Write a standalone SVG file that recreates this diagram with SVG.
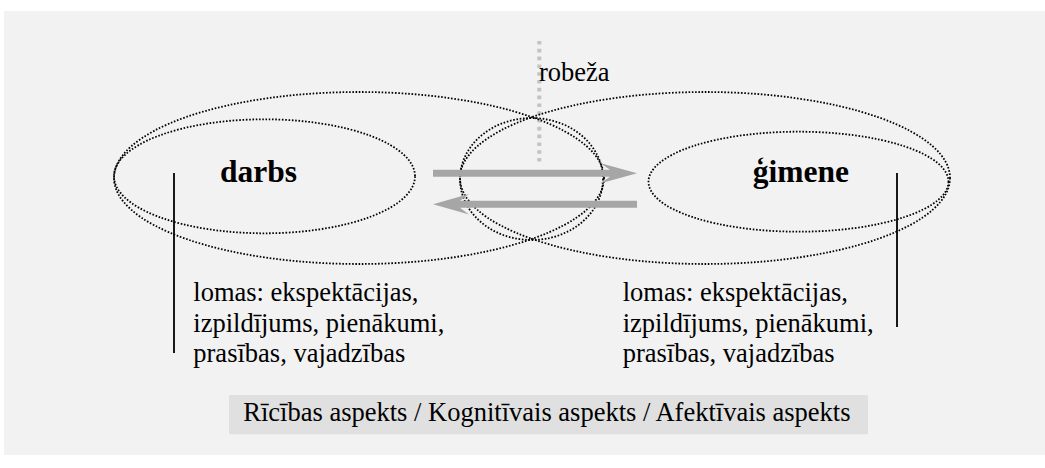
<svg xmlns="http://www.w3.org/2000/svg" width="1045" height="468" viewBox="0 0 1045 468">
  <style>
    .dot { fill: none; stroke: #000; stroke-width: 1.8; stroke-dasharray: 1.6 1.7; }
    .serif { font-family: "Liberation Serif", "Times New Roman", serif; fill: #000; }
    .label { font-size: 31.5px; font-weight: bold; }
    .body { font-size: 26.5px; }
    .arrow { fill: #a6a6a6; }
    .bar { stroke: #000; stroke-width: 1.8; }
  </style>
  <rect x="0" y="0" width="1045" height="468" fill="#ffffff"/>
  <rect x="4" y="11" width="1041" height="444" fill="#f2f2f2"/>

  <g id="boundary">
    <line x1="539.3" y1="41" x2="539.3" y2="164" stroke="#c3c3c3" stroke-width="4" stroke-dasharray="3.6 4.2"/>
    <text class="serif body" x="539" y="80.7">robeža</text>
  </g>

  <g id="work-sphere">
    <ellipse class="dot" cx="359" cy="178" rx="245" ry="86"/>
  </g>
  <g id="family-sphere">
    <ellipse class="dot" cx="705" cy="178" rx="245" ry="86"/>
  </g>
  <g id="overlap">
    <ellipse class="dot" cx="531.5" cy="179" rx="71.5" ry="61"/>
  </g>

  <g id="darbs">
    <ellipse class="dot" cx="264.5" cy="176.3" rx="150.5" ry="57"/>
    <text class="serif label" x="220" y="182.3">darbs</text>
  </g>
  <g id="gimene">
    <ellipse class="dot" cx="798.5" cy="181.7" rx="150" ry="50"/>
    <text class="serif label" x="752.7" y="182.3">ģimene</text>
  </g>

  <g id="darbs-roles">
    <line class="bar" x1="174" y1="173" x2="174" y2="353"/>
    <text class="serif body" x="193.3" y="300.7">lomas: ekspektācijas,</text>
    <text class="serif body" x="193.3" y="331.5">izpildījums, pienākumi,</text>
    <text class="serif body" x="193.3" y="361.8">prasības, vajadzības</text>
  </g>
  <g id="gimene-roles">
    <line class="bar" x1="897" y1="173" x2="897" y2="327"/>
    <text class="serif body" x="622.7" y="300.7">lomas: ekspektācijas,</text>
    <text class="serif body" x="622.7" y="331.5">izpildījums, pienākumi,</text>
    <text class="serif body" x="622.7" y="361.8">prasības, vajadzības</text>
  </g>

  <g id="aspects">
    <rect x="229" y="395" width="639" height="39.3" fill="#e0e0e0"/>
    <text class="serif body" x="243.3" y="420.7">Rīcības aspekts / Kognitīvais aspekts / Afektīvais aspekts</text>
  </g>

  <g id="connectors">
    <path class="arrow" d="M433,169.8 L610,169.8 L600,163 L637,173.3 L600,183.6 L610,176.8 L433,176.8 Z"/>
    <path class="arrow" d="M637,200.8 L460,200.8 L469,194 L433,204.3 L469,214.6 L460,207.8 L637,207.8 Z"/>
  </g>
</svg>
